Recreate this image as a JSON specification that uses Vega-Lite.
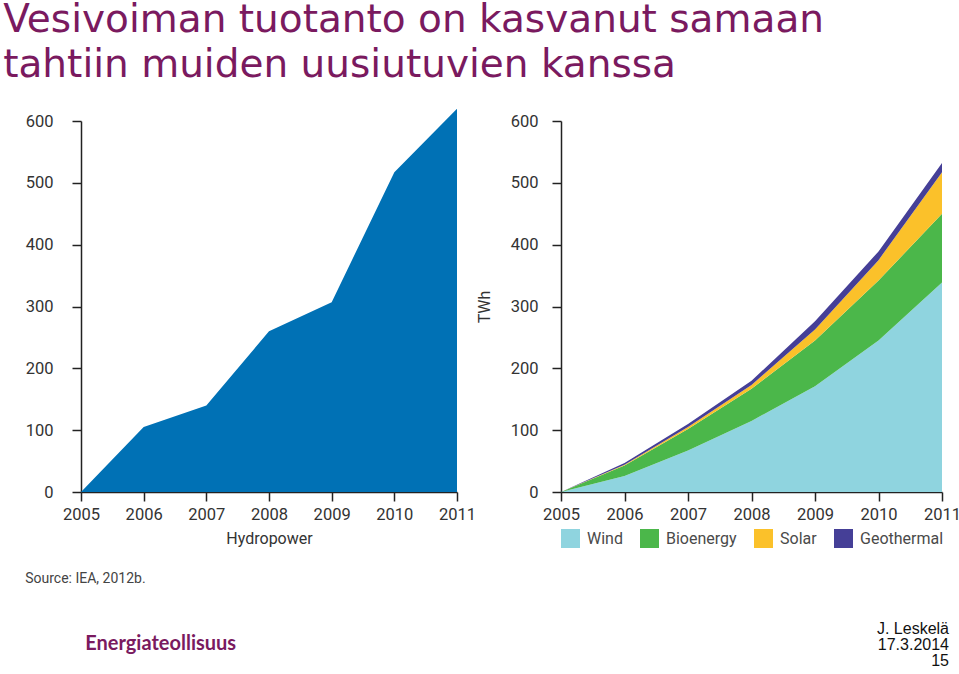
{
  "$schema": "https://vega.github.io/schema/vega-lite/v6.json",
  "background": "white",
  "padding": {"left": 3, "top": 0, "right": 5, "bottom": 5},
  "title": {
    "text": ["Vesivoiman tuotanto on kasvanut samaan", "tahtiin muiden uusiutuvien kanssa"],
    "anchor": "start",
    "dx": -22,
    "font": "DejaVu Sans",
    "fontSize": 39,
    "fontWeight": "normal",
    "color": "#7a1a5f",
    "lineHeight": 45,
    "offset": 24
  },
  "bounds": "flush",
  "spacing": 104,
  "resolve": {"legend": {"color": "independent"}, "scale": {"color": "independent"}},
  "hconcat": [
    {
      "width": 376,
      "height": 371,
      "data": {"values": [
        {"year": 2005, "twh": 0},
        {"year": 2006, "twh": 105},
        {"year": 2007, "twh": 140},
        {"year": 2008, "twh": 260},
        {"year": 2009, "twh": 307},
        {"year": 2010, "twh": 517},
        {"year": 2011, "twh": 620}
      ]},
      "mark": {"type": "area", "color": "#0071b5", "opacity": 1},
      "encoding": {
        "x": {"field": "year", "type": "quantitative", "scale": {"domain": [2005, 2011], "nice": false, "zero": false},
              "axis": {"values": [2005, 2006, 2007, 2008, 2009, 2010, 2011], "format": "d", "title": "Hydropower"}},
        "y": {"field": "twh", "type": "quantitative", "scale": {"domain": [0, 600], "nice": false},
              "axis": {"values": [0, 100, 200, 300, 400, 500, 600], "title": null, "labelPadding": 19}}
      },
      "title": {
        "text": "Source: IEA, 2012b.",
        "subtitle": "\u200d\u2003\u2003\u2003\u2003Energiateollisuus",
        "orient": "bottom",
        "anchor": "start",
        "dx": 0,
        "offset": 25,
        "font": "Roboto",
        "fontSize": 14,
        "fontWeight": "normal",
        "color": "#444444",
        "subtitleFont": "Lato",
        "subtitleFontSize": 20,
        "subtitleFontWeight": "bold",
        "subtitleColor": "#7a1a5f",
        "subtitlePadding": 48
      }
    },
    {
      "width": 381,
      "height": 371,
      "data": {"values": [
        {"year": 2005, "source": "Wind", "twh": 0, "k": 1},
        {"year": 2006, "source": "Wind", "twh": 26, "k": 1},
        {"year": 2007, "source": "Wind", "twh": 67, "k": 1},
        {"year": 2008, "source": "Wind", "twh": 115, "k": 1},
        {"year": 2009, "source": "Wind", "twh": 171, "k": 1},
        {"year": 2010, "source": "Wind", "twh": 245, "k": 1},
        {"year": 2011, "source": "Wind", "twh": 339, "k": 1},
        {"year": 2005, "source": "Bioenergy", "twh": 0, "k": 2},
        {"year": 2006, "source": "Bioenergy", "twh": 17, "k": 2},
        {"year": 2007, "source": "Bioenergy", "twh": 35, "k": 2},
        {"year": 2008, "source": "Bioenergy", "twh": 52, "k": 2},
        {"year": 2009, "source": "Bioenergy", "twh": 74, "k": 2},
        {"year": 2010, "source": "Bioenergy", "twh": 97, "k": 2},
        {"year": 2011, "source": "Bioenergy", "twh": 111, "k": 2},
        {"year": 2005, "source": "Solar", "twh": 0, "k": 3},
        {"year": 2006, "source": "Solar", "twh": 1, "k": 3},
        {"year": 2007, "source": "Solar", "twh": 3, "k": 3},
        {"year": 2008, "source": "Solar", "twh": 6, "k": 3},
        {"year": 2009, "source": "Solar", "twh": 18, "k": 3},
        {"year": 2010, "source": "Solar", "twh": 33, "k": 3},
        {"year": 2011, "source": "Solar", "twh": 67, "k": 3},
        {"year": 2005, "source": "Geothermal", "twh": 0, "k": 4},
        {"year": 2006, "source": "Geothermal", "twh": 3, "k": 4},
        {"year": 2007, "source": "Geothermal", "twh": 5, "k": 4},
        {"year": 2008, "source": "Geothermal", "twh": 7, "k": 4},
        {"year": 2009, "source": "Geothermal", "twh": 13, "k": 4},
        {"year": 2010, "source": "Geothermal", "twh": 14, "k": 4},
        {"year": 2011, "source": "Geothermal", "twh": 15, "k": 4}
      ]},
      "mark": {"type": "area", "opacity": 1},
      "encoding": {
        "x": {"field": "year", "type": "quantitative", "scale": {"domain": [2005, 2011], "nice": false, "zero": false},
              "axis": {"values": [2005, 2006, 2007, 2008, 2009, 2010, 2011], "format": "d", "title": null}},
        "y": {"field": "twh", "type": "quantitative", "stack": "zero", "scale": {"domain": [0, 600], "nice": false},
              "axis": {"values": [0, 100, 200, 300, 400, 500, 600], "title": "TWh", "labelPadding": 14, "titlePadding": 18}},
        "color": {"field": "source", "type": "nominal",
                  "scale": {"domain": ["Wind", "Bioenergy", "Solar", "Geothermal"], "range": ["#8fd4df", "#4bb74a", "#fbc12a", "#453f97"]},
                  "legend": {"orient": "bottom", "direction": "horizontal", "title": null, "symbolType": "square", "symbolSize": 361,
                             "symbolStrokeWidth": 0, "symbolOpacity": 1, "labelFont": "Roboto", "labelFontSize": 16, "labelColor": "#4a4a4a",
                             "labelOffset": 7, "columnPadding": 17, "offset": 6, "padding": 0}},
        "order": {"field": "k", "type": "quantitative"}
      },
      "title": {
        "text": ["J. Leskelä", "17.3.2014", "15"],
        "orient": "bottom",
        "anchor": "end",
        "frame": "group",
        "align": "right",
        "dx": 7,
        "offset": 73,
        "font": "Liberation Sans",
        "fontSize": 16,
        "fontWeight": "normal",
        "color": "#111111",
        "lineHeight": 16
      }
    }
  ],
  "config": {
    "view": {"stroke": null},
    "axis": {
      "grid": false,
      "domainColor": "#222222",
      "domainWidth": 1.5,
      "tickColor": "#222222",
      "tickWidth": 1.5,
      "tickSize": 9,
      "labelFont": "Roboto",
      "labelFontSize": 16.5,
      "labelColor": "#333333",
      "labelFlush": false,
      "labelOverlap": false,
      "titleFont": "Roboto",
      "titleFontSize": 16,
      "titleFontWeight": "normal",
      "titleColor": "#333333"
    },
    "axisX": {"labelPadding": 5, "titlePadding": 8}
  }
}
